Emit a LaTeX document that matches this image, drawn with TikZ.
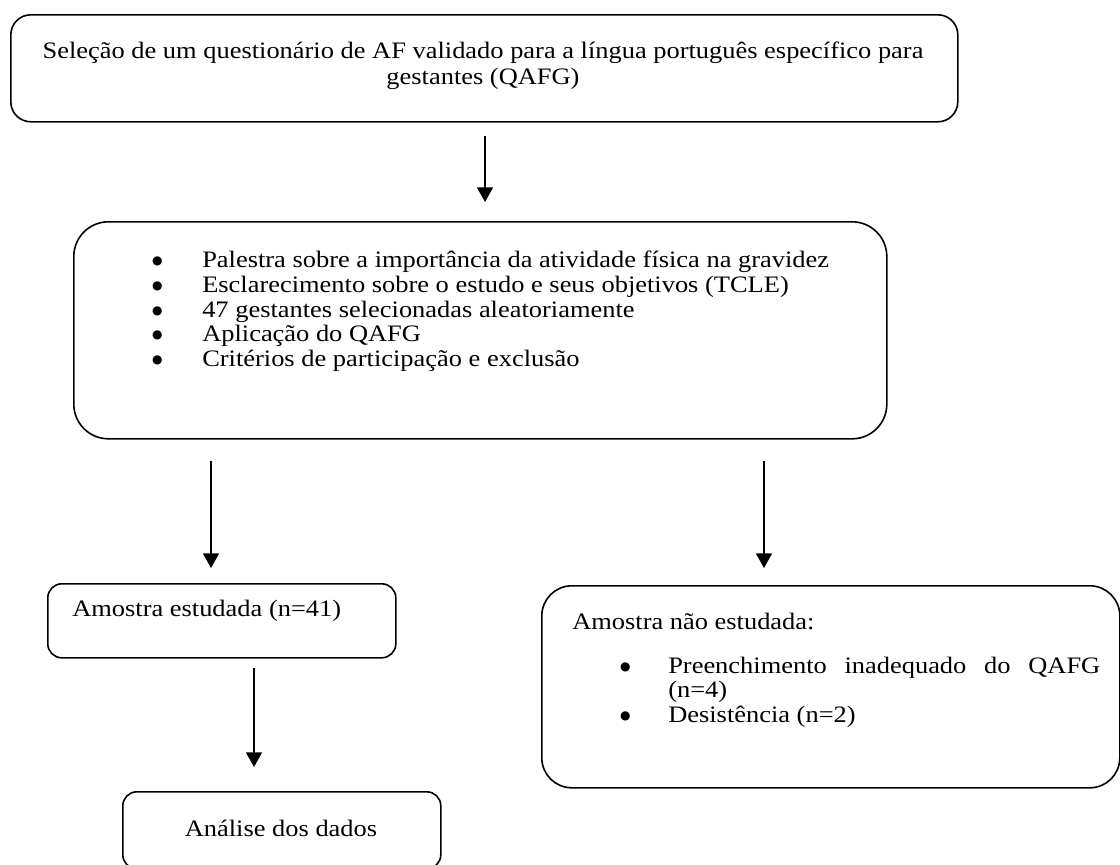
\documentclass[tikz,border=0pt]{standalone}
\usepackage{fontspec}
\setmainfont[FakeStretch=1.12]{Liberation Serif}
\newfontfamily\bulletfont{DejaVu Sans}
\usetikzlibrary{arrows.meta}
\newcommand{\bulglyph}{\makebox[0pt]{\raisebox{1.6pt}{\bulletfont\fontsize{9pt}{9pt}\selectfont ●}}}
\newcommand{\bul}{\bulglyph\hspace{33.75pt}}
\newcommand{\bulb}{\bulglyph\hspace{32.25pt}}
\begin{document}
\begin{tikzpicture}[x=0.75pt,y=-0.75pt,
  font=\fontsize{17.7pt}{19pt}\selectfont,
  box/.style={draw, line width=1.2pt, inner sep=0pt, anchor=north west},
  txt/.style={inner sep=0pt, anchor=base west, text height=12pt, text depth=4pt},
  ctxt/.style={inner sep=0pt, anchor=base, text height=12pt, text depth=4pt},
  arr/.style={line width=1.1pt, -{Triangle[length=11pt,width=12pt]}}]
\path[use as bounding box] (0,0) rectangle (1120,864);
\clip (0,0) rectangle (1120,864);
% boxes
\node[box, rounded corners=15pt, minimum width=710.25pt, minimum height=80.25pt] (b1) at (10,14) {};
\node[box, rounded corners=26pt, minimum width=609.75pt, minimum height=162.75pt] (b2) at (73,221) {};
\node[box, rounded corners=10.5pt, minimum width=261pt, minimum height=55.5pt] (b3) at (47,583) {};
\node[box, rounded corners=22.5pt, minimum width=433.5pt, minimum height=151.5pt] (b4) at (541,585) {};
\node[box, rounded corners=10.5pt, minimum width=238.5pt, minimum height=57.75pt] (b5) at (122,791) {};
% box 1 text
\node[ctxt] (t1a) at (483,58) {Seleção de um questionário de AF validado para a língua português específico para};
\node[ctxt] (t1b) at (483,84) {gestantes (QAFG)};
% box 2 text (bullet centred on the node's west edge, text 45px further)
\node[txt] (l1) at (157,267) {\bul Palestra sobre a importância da atividade física na gravidez};
\node[txt] (l2) at (157,292) {\bul Esclarecimento sobre o estudo e seus objetivos (TCLE)};
\node[txt] (l3) at (157,317) {\bul 47 gestantes selecionadas aleatoriamente};
\node[txt] (l4) at (157,341) {\bul Aplicação do QAFG};
\node[txt] (l5) at (157,366) {\bul Critérios de participação e exclusão};
% box 3 text
\node[txt] (t3) at (72,616) {Amostra estudada (n=41)};
% box 4 text
\node[txt] (t4) at (572,629) {Amostra não estudada:};
\node[txt] (m1) at (625,673) {\bulb\makebox[324pt][s]{Preenchimento inadequado do QAFG}};
\node[txt] (m1b) at (668,697) {(n=4)};
\node[txt] (m2) at (625,722) {\bulb Desistência (n=2)};
% box 5 text
\node[ctxt] (t5) at (281,836) {Análise dos dados};
% arrows
\coordinate (a1s) at (485,136);
\coordinate (a2s) at (211,461);
\coordinate (a3s) at (764,461);
\coordinate (a4s) at (254,668);
\draw[arr, shorten >=14.25pt] (a1s) -- (a1s |- b2.north);
\draw[arr, shorten >=11.25pt] (a2s) -- (a2s |- b3.north);
\draw[arr, shorten >=12.75pt] (a3s) -- (a3s |- b4.north);
\draw[arr, shorten >=18pt] (a4s) -- (a4s |- b5.north);
\end{tikzpicture}
\end{document}
